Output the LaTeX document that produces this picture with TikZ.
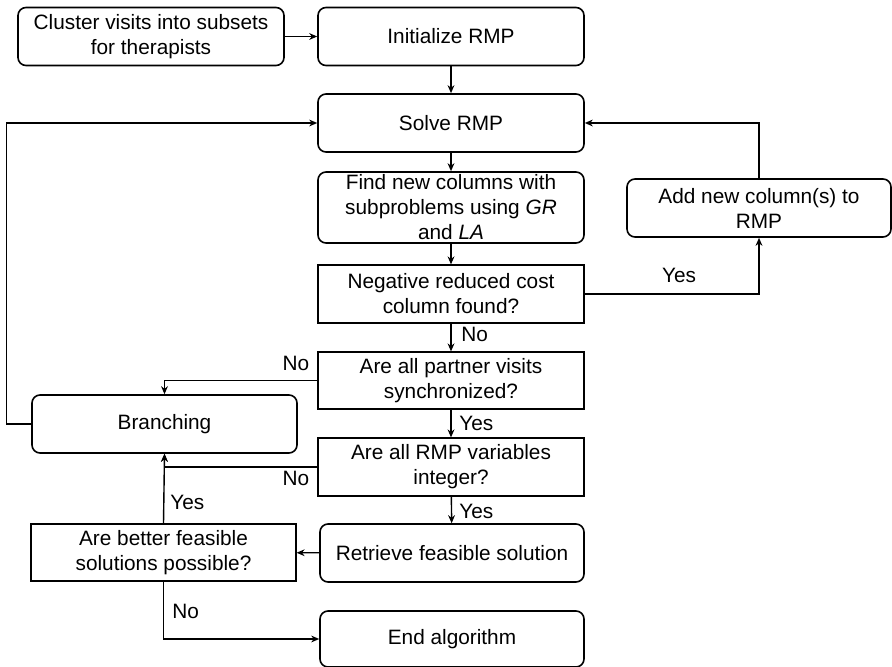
\documentclass[tikz,border=0pt]{standalone}
\usepackage{fontspec}
\setmainfont{Liberation Sans}
\usetikzlibrary{arrows.meta}

\begin{document}
\begin{tikzpicture}[x=0.5pt, y=-0.5pt,
    font=\fontsize{10.4}{12.5}\selectfont,
    procbox/.style={draw, rounded corners=4pt, line width=0.8pt, minimum width=133pt, minimum height=29pt, align=center, inner sep=1pt},
    testbox/.style={draw, line width=0.6pt, minimum width=133pt, minimum height=29pt, align=center, inner sep=1pt},
    arr/.style={-{Stealth[length=4pt, width=3.4pt]}, line width=0.7pt},
    lbl/.style={inner sep=0pt}]
        \useasboundingbox (0,0) rectangle (892,667);
        % Main column
        \node[procbox] (clust) at (151,36.5) {Cluster visits into subsets\\for therapists};
        \node[procbox] (init) at (451,36.5) {Initialize RMP};
        \node[procbox] (solve) at (451,123) {Solve RMP};
        \node[procbox, minimum height=35.5pt, inner ysep=0pt] (find) at (451,207.5) {Find new columns with\\subproblems using \textit{GR}\\and \textit{LA}};
        \node[testbox] (neg) at (451,294) {Negative reduced cost\\column found?};
        \node[testbox, minimum height=28.5pt] (sync) at (451,380.5) {Are all partner visits\\synchronized?};
        \node[testbox] (integ) at (451,467) {Are all RMP variables\\integer?};
        \node[procbox, minimum width=132pt] (retr) at (452,553) {Retrieve feasible solution};
        \node[procbox, minimum width=132pt, minimum height=28pt] (endalg) at (452,639) {End algorithm};
        % Side boxes
        \node[procbox, minimum width=132pt] (addcol) at (759,208) {Add new column(s) to\\RMP};
        \node[procbox, minimum width=132.5pt] (branch) at (164.5,424) {Branching};
        \node[testbox, minimum width=132.5pt, minimum height=28.5pt] (better) at (163.5,552.5) {Are better feasible\\solutions possible?};
        % Straight flow
        \draw[arr] (clust) -- (init);
        \draw[arr] (init) -- (solve);
        \draw[arr] (solve) -- (find);
        \draw[arr] (find) -- (neg);
        \draw[arr] (neg) -- (sync);
        \draw[arr] (sync) -- (integ);
        \draw[arr] (integ) -- (retr);
        \draw[arr] (retr) -- (better);
        % Column generation loop
        \draw[arr] (neg.east) -| (addcol.south);
        \draw[arr] (addcol.north) |- (solve.east);
        % Branching loop
        \draw[arr] (sync.west) -| (branch.north);
        \draw[arr] (integ.west) -| (branch.south);
        \draw[arr] (better.north) -- (branch.south);
        \draw[arr] (branch.west) -- ++(-25,0) |- (solve.west);
        \draw[arr] (better.south) |- (endalg.west);
        % Labels
        \node[lbl, anchor=west] (lnoneg) at (461,334) {No};
        \node[lbl, anchor=west] (lyessync) at (459,423) {Yes};
        \node[lbl, anchor=west] (lyesinteg) at (459,511) {Yes};
        \node[lbl] (lyesneg) at (679,275) {Yes};
        \node[lbl] (lnosync) at (296,363) {No};
        \node[lbl] (lnointeg) at (296,478) {No};
        \node[lbl, anchor=west] (lyesbetter) at (170,502) {Yes};
        \node[lbl, anchor=west] (lnobetter) at (172,611) {No};
\end{tikzpicture}
\end{document}
